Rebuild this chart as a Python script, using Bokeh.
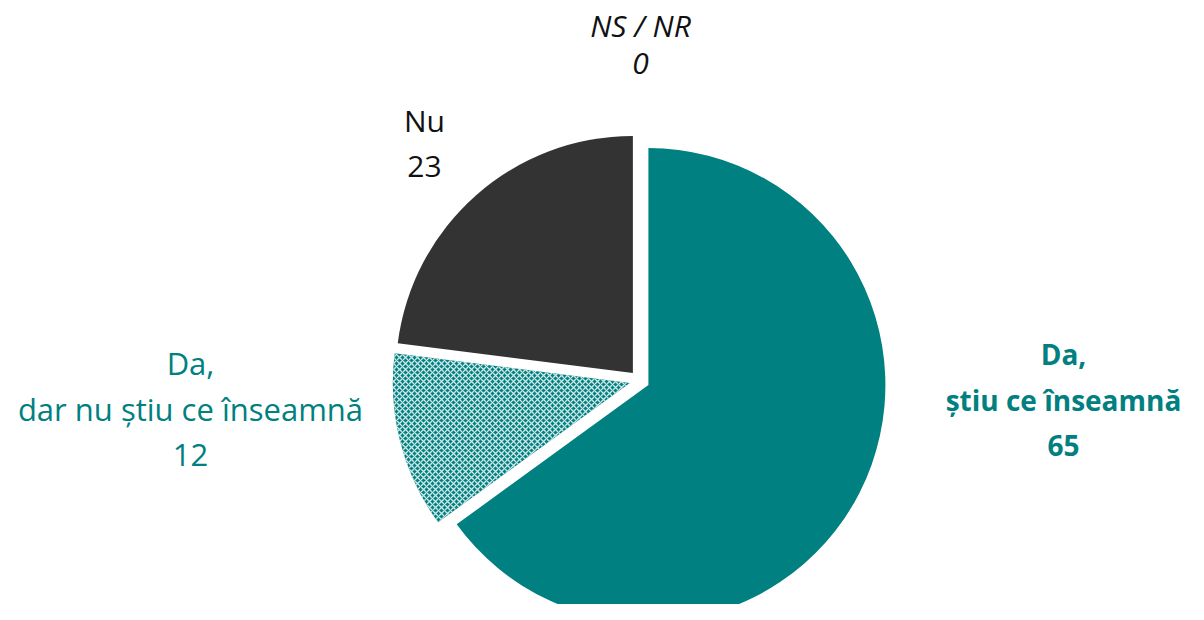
import math
from bokeh.plotting import figure
from bokeh.models import Range1d, ColumnDataSource
from bokeh.core.properties import value
from bokeh.embed import file_html
from bokeh.resources import INLINE

# ---- data ----
categories = ["Da,\nștiu ce înseamnă", "Da,\ndar nu știu ce înseamnă", "Nu", "NS / NR"]
values = [65, 12, 23, 0]
colors = ["#008080", "#008080", "#333333", "#999999"]
hatches = [" ", "diagonal_cross", " ", " "]

# ---- layout (pixel-like data coordinates) ----
W, H = 1188, 604
cx, cy = 639, 224
R = 237
explode = 10

p = figure(width=W, height=H, output_backend="svg", toolbar_location=None,
           x_range=Range1d(0, W), y_range=Range1d(0, H), min_border=0)
p.axis.visible = False
p.grid.visible = False
p.outline_line_color = None
p.background_fill_color = "white"

total = sum(values)
start = 90.0
xs, ys, sa, ea, fc, hp = [], [], [], [], [], []
for v, c, h in zip(values, colors, hatches):
    span = 360.0 * v / total
    end = start - span
    if v > 0:
        mid = math.radians((start + end) / 2)
        xs.append(cx + explode * math.cos(mid))
        ys.append(cy + explode * math.sin(mid))
        sa.append(math.radians(start))
        ea.append(math.radians(end))
        fc.append(c)
        hp.append(h)
    start = end

src = ColumnDataSource(dict(x=xs, y=ys, sa=sa, ea=ea, fc=fc, hp=hp))
p.wedge(x="x", y="y", radius=R, start_angle="sa", end_angle="ea", direction="clock",
        fill_color="fc", line_color=None, hatch_pattern="hp", hatch_color="#cfe7e6",
        hatch_scale=6, hatch_weight=1.3, source=src)

# ---- labels ----
label_pos = [(1063, 251), (190, 242), (424, 484), (640, 579)]
label_gap = [46, 46, 46, 38]
label_size = ["28px", "31px", "30px", "30px"]
label_col = ["#008080", "#008080", "#111111", "#111111"]
label_style = ["bold", "normal", "normal", "italic"]
font = value("Open Sans")
for cat, v, (lx, ly), gap, sz, col, st in zip(categories, values, label_pos, label_gap,
                                              label_size, label_col, label_style):
    lines = cat.split("\n") + [str(v)]
    for i, ln in enumerate(lines):
        p.text(x=[lx], y=[ly - i * gap], text=[ln], text_align="center",
               text_baseline="middle", text_font=font, text_font_size=sz,
               text_font_style=st, text_color=col)

open("out.html", "w").write(file_html(p, INLINE))
